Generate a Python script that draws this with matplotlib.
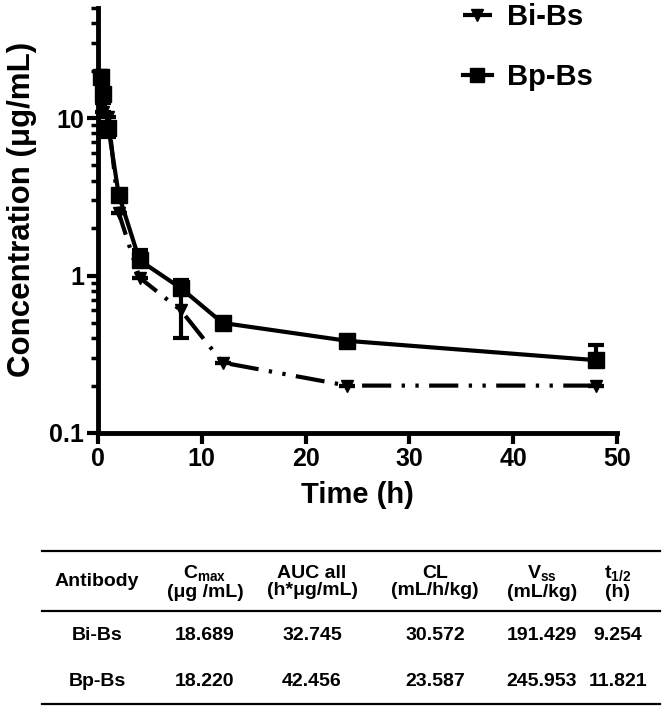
import matplotlib
matplotlib.use('Agg')
import matplotlib.pyplot as plt
from matplotlib.lines import Line2D

# data
time_h = [0.25, 0.5, 1, 2, 4, 8, 12, 24, 48]
bi_bs = [18.7, 11.0, 10.2, 2.5, 0.97, 0.60, 0.28, 0.20, 0.20]
bi_err_lo = [0, 0, 2.6, 0, 0, 0.20, 0, 0, 0]
bi_err_hi = [0, 1.5, 0, 0, 0, 0.25, 0, 0, 0]
bp_bs = [18.2, 14.2, 8.7, 3.25, 1.25, 0.83, 0.50, 0.385, 0.29]
bp_err_hi = [0, 0, 0, 0.1, 0.2, 0.1, 0, 0, 0.07]

tbl_header = ['Antibody', r'C$_{\mathrm{max}}$' + '\n(μg /mL)', 'AUC all\n(h*μg/mL)',
              'CL\n(mL/h/kg)', r'V$_{\mathrm{ss}}$' + '\n(mL/kg)', r't$_{\mathrm{1/2}}$' + '\n(h)']
tbl_rows = [['Bi-Bs', '18.689', '32.745', '30.572', '191.429', '9.254'],
            ['Bp-Bs', '18.220', '42.456', '23.587', '245.953', '11.821']]

plt.rcParams['font.family'] = ['Liberation Sans', 'DejaVu Sans']
plt.rcParams['font.weight'] = 'bold'
plt.rcParams['mathtext.fontset'] = 'custom'
plt.rcParams['mathtext.rm'] = 'Liberation Sans:bold'
plt.rcParams['mathtext.it'] = 'Liberation Sans:bold'
plt.rcParams['mathtext.bf'] = 'Liberation Sans:bold'

fig = plt.figure(figsize=(6.64, 7.08), dpi=100)
W, H = 664, 708
ax = fig.add_axes([98 / W, 1 - 433 / H, (617 - 98) / W, (433 - 8) / H])

lw = 3
bi_ls = (0, (7, 2.5, 0.8, 2.5, 0.8, 2.5))
ax.errorbar(time_h, bi_bs, yerr=[bi_err_lo, bi_err_hi], color='black', lw=lw,
            ls=bi_ls, marker='v', ms=9, capsize=6, capthick=lw,
            elinewidth=lw, clip_on=False, zorder=3)
ax.errorbar(time_h, bp_bs, yerr=[[0] * len(bp_bs), bp_err_hi], color='black', lw=lw,
            ls='-', marker='s', ms=11, capsize=6, capthick=lw, elinewidth=lw,
            clip_on=False, zorder=4)

ax.set_yscale('log')
ax.set_ylim(0.1, 50)
ax.set_xlim(0, 50)
ax.set_xticks([0, 10, 20, 30, 40, 50])
ax.set_yticks([0.1, 1, 10])
ax.set_yticklabels(['0.1', '1', '10'])
for s in ['top', 'right']:
    ax.spines[s].set_visible(False)
for s in ['left', 'bottom']:
    ax.spines[s].set_linewidth(3.5)
ax.tick_params(which='major', width=3, length=8, labelsize=18, pad=2)
ax.tick_params(which='minor', width=2.5, length=5)
ax.set_xlabel('Time (h)', fontsize=21, fontweight='bold', labelpad=7)
ax.set_ylabel('Concentration (μg/mL)', fontsize=22.5, fontweight='bold')
ax.yaxis.set_label_coords(-0.118, 0.525)

handles = [Line2D([], [], color='black', lw=lw, ls=bi_ls, marker='v', ms=9),
           Line2D([], [], color='black', lw=lw, ls='-', marker='s', ms=10)]
ax.legend(handles, ['Bi-Bs', 'Bp-Bs'], loc='upper left', bbox_to_anchor=(0.703, 1.011),
          frameon=False, fontsize=21, handlelength=1.0, handletextpad=0.5,
          labelspacing=1.1, borderaxespad=0, borderpad=0)

# table below the chart
tx = [97, 205, 312, 435, 542, 618]
for yy in [551, 611, 704]:
    fig.add_artist(Line2D([42 / W, 660 / W], [1 - yy / H] * 2, color='black', lw=1.6))
for x, h in zip(tx, tbl_header):
    fig.text(x / W, 1 - 582 / H, h, ha='center', va='center', fontsize=14,
             fontweight='bold', linespacing=1.05)
for r, yy in zip(tbl_rows, [635, 682]):
    for x, v in zip(tx, r):
        fig.text(x / W, 1 - yy / H, v, ha='center', va='center', fontsize=14,
                 fontweight='bold')

fig.savefig('out.png', dpi=100)
